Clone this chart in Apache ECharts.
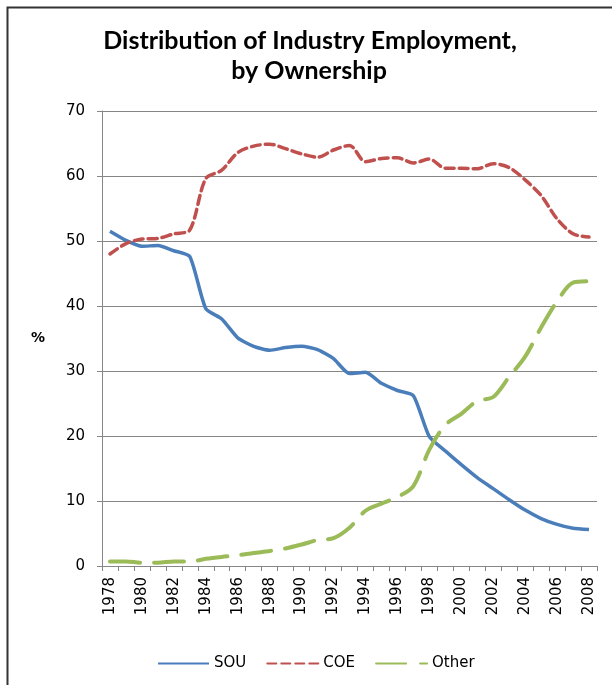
<!DOCTYPE html>
<html>
<head>
<meta charset="utf-8">
<script src="https://cdn.jsdelivr.net/npm/echarts@6/dist/echarts.min.js"></script>
<style>
  html, body { margin: 0; padding: 0; background: #fff; }
  #chart { width: 612px; height: 685px; }
</style>
</head>
<body>
<div id="chart"></div>
<script>
// Years 1978–2008
const years = ['1978','1979','1980','1981','1982','1983','1984','1985','1986','1987',
  '1988','1989','1990','1991','1992','1993','1994','1995','1996','1997',
  '1998','1999','2000','2001','2002','2003','2004','2005','2006','2007','2008'];

// Share of industry employment, %
const sou = [51.5, 50.1, 49.2, 49.3, 48.5, 47.6, 39.6, 38.0, 35.1, 33.8,
  33.2, 33.6, 33.8, 33.3, 31.9, 29.6, 29.8, 28.1, 27.0, 26.2,
  19.9, 17.7, 15.6, 13.6, 11.9, 10.2, 8.6, 7.3, 6.4, 5.8, 5.6];
const coe = [48.0, 49.6, 50.3, 50.4, 51.1, 51.7, 59.6, 60.9, 63.6, 64.6,
  64.9, 64.2, 63.4, 62.9, 64.0, 64.7, 62.2, 62.7, 62.8, 62.0,
  62.6, 61.2, 61.2, 61.1, 61.9, 61.3, 59.4, 57.0, 53.4, 51.1, 50.6];
const other = [0.7, 0.7, 0.5, 0.5, 0.7, 0.7, 1.1, 1.4, 1.65, 2.0,
  2.3, 2.7, 3.3, 4.0, 4.3, 5.9, 8.5, 9.6, 10.6, 12.3,
  17.9, 21.7, 23.4, 25.4, 26.0, 29.1, 32.2, 36.7, 40.7, 43.6, 43.8];

const titleLines = ['Distribution of Industry Employment,', 'by Ownership'];
const yTicks = { min: 0, max: 70, interval: 10 };

const axisGray = '#868686';
const labelFont = 'DejaVu Sans';
const labelSize = 15;
const titleFont = 'bold 25px Lato';

const chart = echarts.init(document.getElementById('chart'), null, { renderer: 'canvas' });
chart.setOption({
  animation: false,
  backgroundColor: '#ffffff',
  graphic: [
    {
      type: 'text',
      x: 310, y: 41,
      style: { text: titleLines[0], font: titleFont, fill: '#000', align: 'center', verticalAlign: 'middle' },
      silent: true
    },
    {
      type: 'text',
      x: 309, y: 71,
      style: { text: titleLines[1], font: titleFont, fill: '#000', align: 'center', verticalAlign: 'middle' },
      silent: true
    },
    {
      type: 'rect',
      shape: { x: 7.5, y: 7.5, width: 640, height: 700 },
      style: { fill: 'none', stroke: '#333', lineWidth: 2 },
      silent: true,
      z: 100
    }
  ],
  legend: {
    bottom: 9,
    left: 152,
    itemWidth: 51,
    itemHeight: 12,
    itemGap: 20,
    itemStyle: { opacity: 0 },
    textStyle: { fontFamily: labelFont, fontSize: labelSize, color: '#000' },
    data: ['SOU', 'COE', 'Other']
  },
  grid: { left: 102, right: 15, top: 111, bottom: 119, containLabel: false },
  xAxis: {
    type: 'category',
    data: years,
    boundaryGap: true,
    axisLine: { lineStyle: { color: axisGray, width: 1 } },
    axisTick: { show: true, alignWithLabel: false, interval: 0, length: 5, lineStyle: { color: axisGray } },
    axisLabel: {
      interval: 1,
      rotate: 90,
      margin: 11,
      fontFamily: labelFont,
      fontSize: labelSize,
      color: '#000'
    },
    splitLine: { show: false }
  },
  yAxis: {
    type: 'value',
    min: yTicks.min,
    max: yTicks.max,
    interval: yTicks.interval,
    name: '%',
    nameLocation: 'middle',
    nameRotate: 0,
    nameGap: 57,
    nameTextStyle: { fontFamily: labelFont, fontSize: 14, fontWeight: 'bold', color: '#000' },
    axisLine: { show: true, lineStyle: { color: axisGray, width: 1 } },
    axisTick: { show: true, length: 5, lineStyle: { color: axisGray } },
    axisLabel: { margin: 17, fontFamily: labelFont, fontSize: labelSize, color: '#000' },
    splitLine: { show: true, lineStyle: { color: axisGray, width: 1 } }
  },
  series: [
    {
      name: 'SOU',
      type: 'line',
      data: sou,
      smooth: 0.2,
      symbol: 'none',
      color: '#4A7EBB',
      lineStyle: { width: 3.5, color: '#4A7EBB' }
    },
    {
      name: 'COE',
      type: 'line',
      data: coe,
      smooth: 0.3,
      symbol: 'none',
      color: '#C0504D',
      lineStyle: { width: 3.5, color: '#C0504D', type: [9, 5], cap: 'round' }
    },
    {
      name: 'Other',
      type: 'line',
      data: other,
      smooth: 0.3,
      symbol: 'none',
      color: '#9BBB59',
      lineStyle: { width: 4, color: '#9BBB59', type: [30, 14], cap: 'round' }
    }
  ]
});
</script>
</body>
</html>
